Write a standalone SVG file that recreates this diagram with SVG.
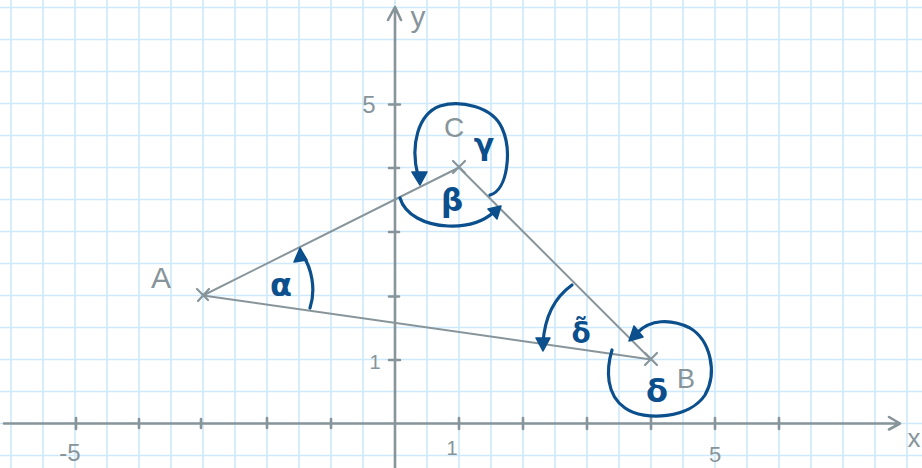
<svg xmlns="http://www.w3.org/2000/svg" width="922" height="468" viewBox="0 0 922 468">
<style>
.grid{stroke:#cde9fb;stroke-width:1.6;fill:none}
.axis{stroke:#87959b;stroke-width:2.6;fill:none;stroke-linecap:round;stroke-linejoin:round}
.tick{stroke:#87959b;stroke-width:2.6;fill:none;stroke-linecap:round}
.edge{stroke:#87959b;stroke-width:2;fill:none;stroke-linecap:round}
.cross{stroke:#87959b;stroke-width:2.2;fill:none;stroke-linecap:round}
.ang{stroke:#0b4f8c;stroke-width:3.2;fill:none;stroke-linecap:round;stroke-linejoin:round}
.head{fill:#0b4f8c;stroke:#0b4f8c;stroke-width:1.5;stroke-linejoin:round}
.lbl{fill:#87959b;font-family:"Liberation Sans",Arial,sans-serif;text-anchor:middle}
.grk{fill:#0b4f8c;font-family:"DejaVu Sans",sans-serif;font-weight:bold;text-anchor:middle}
</style>
<rect width="922" height="468" fill="#ffffff"/>
<g id="grid">
<path class="grid" d="M11 0V468M43 0V468M75 0V468M107 0V468M139 0V468M171 0V468M203 0V468M235 0V468M267 0V468M299 0V468M331 0V468M363 0V468M395 0V468M427 0V468M459 0V468M491 0V468M523 0V468M555 0V468M587 0V468M619 0V468M651 0V468M683 0V468M715 0V468M747 0V468M779 0V468M811 0V468M843 0V468M875 0V468M907 0V468"/>
<path class="grid" d="M0 7.5H922M0 39.5H922M0 71.5H922M0 103.5H922M0 135.5H922M0 167.5H922M0 199.5H922M0 231.5H922M0 263.5H922M0 295.5H922M0 327.5H922M0 359.5H922M0 391.5H922M0 423.5H922M0 455.5H922"/>
</g>
<g id="axes">
<path class="axis" d="M4 423.5H900M889 417L900 423.5L889 429.5"/>
<path class="axis" d="M395 468V7M388 20L395 7L401 20"/>
<path class="tick" d="M76 418V429M139 419V428M201 419V428M267 418V428M331 419V428M459 418V429M523 418V429M587 418V429M651 418V429M715 418V429M779 418V429"/>
<path class="tick" d="M389 104.5H400M389 168H399M389 232H399M389 296.5H399M389 360H400"/>
<text class="lbl" x="369" y="113" font-size="24">5</text>
<text class="lbl" x="375" y="369" font-size="20">1</text>
<text class="lbl" x="70" y="461" font-size="24">-5</text>
<text class="lbl" x="452" y="455" font-size="20">1</text>
<text class="lbl" x="715" y="462" font-size="22">5</text>
<text class="lbl" x="418" y="27" font-size="30">y</text>
<text class="lbl" x="914" y="447" font-size="26">x</text>
</g>
<g id="connectors">
<path class="edge" d="M203 295.5L459 167.5"/>
<path class="edge" d="M203 295.5L651 359.5"/>
<path class="edge" d="M459 167.5L651 359.5"/>
</g>
<g id="A">
<path class="cross" d="M197 289L208 300M198 301L209 289"/>
<text class="lbl" x="161" y="288" font-size="30">A</text>
</g>
<g id="C">
<path class="cross" d="M453 161L465 173M453 173L465 161"/>
<text class="lbl" x="454" y="137" font-size="28">C</text>
</g>
<g id="B">
<path class="cross" d="M645 353L657 365M645 365L657 353"/>
<text class="lbl" x="686" y="388" font-size="27">B</text>
</g>
<g id="alpha">
<path class="ang" d="M310 308C316 290 312 268 302 254"/>
<polygon class="head" points="300,248 294,262 307,260"/>
<text class="grk" x="281" y="296" font-size="32">α</text>
</g>
<g id="gamma">
<path class="ang" d="M490 195C508 190 512 150 502 128C492 106 460 100 440 106C418 114 410 145 418 176"/>
<polygon class="head" points="420,185 412,172 427,172"/>
<text class="grk" x="484" y="155" font-size="30">γ</text>
</g>
<g id="beta">
<path class="ang" d="M400 198C405 215 425 225 448 226C470 227 485 220 494 212"/>
<polygon class="head" points="501,206 488,209 497,219"/>
<text class="grk" x="452" y="211" font-size="31">β</text>
</g>
<g id="delta-tilde">
<path class="ang" d="M572 285C558 295 545 312 543 343"/>
<polygon class="head" points="543,351 536,338 550,338"/>
<text class="grk" x="581" y="343" font-size="28">δ̃</text>
</g>
<g id="delta">
<path class="ang" d="M612 350C606 370 606 395 625 408C645 422 690 418 705 395C718 372 710 340 690 328C670 318 650 320 638 332"/>
<polygon class="head" points="629,341 643,337 634,326"/>
<text class="grk" x="657" y="402" font-size="32">δ</text>
</g>
</svg>
